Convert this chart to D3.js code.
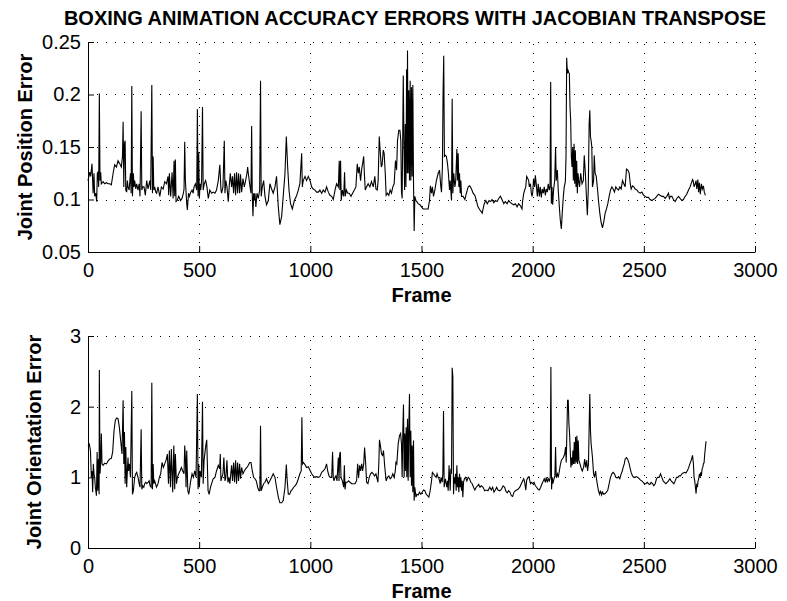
<!DOCTYPE html>
<html>
<head>
<meta charset="utf-8">
<script src="https://cdn.jsdelivr.net/npm/d3@7"></script>
<style>
  body { margin: 0; background: #fff; }
  svg { display: block; font-family: "Liberation Sans", Arial, sans-serif; }
</style>
</head>
<body>
<div id="main-container"></div>
<script>
const chartTitle = "BOXING ANIMATION ACCURACY ERRORS WITH JACOBIAN TRANSPOSE";
const frameTicks = [0, 500, 1000, 1500, 2000, 2500, 3000];
const positionTicks = [0.05, 0.1, 0.15, 0.2, 0.25];
const orientationTicks = [0, 1, 2, 3];

// [frame, error]
const positionError = [
  [0,0.118],[8,0.126],[12,0.122],[18,0.134],[23,0.106],[27,0.125],[30,0.103],[35,0.106],[39,0.098],[42,0.125],
  [45,0.126],[48,0.112],[51,0.201],[54,0.118],[57,0.126],[60,0.115],[68,0.117],[75,0.115],[83,0.116],[90,0.115],
  [98,0.115],[105,0.114],[113,0.125],[120,0.133],[128,0.131],[135,0.137],[143,0.134],[150,0.131],[155,0.141],[158,0.174],
  [161,0.112],[164,0.153],[167,0.156],[170,0.109],[174,0.107],[177,0.118],[180,0.112],[185,0.109],[191,0.125],[194,0.106],
  [197,0.208],[200,0.103],[204,0.125],[207,0.112],[210,0.118],[215,0.110],[219,0.115],[225,0.109],[230,0.115],[234,0.103],
  [239,0.184],[242,0.109],[246,0.112],[252,0.112],[258,0.104],[264,0.118],[270,0.110],[278,0.118],[282,0.109],[287,0.209],
  [290,0.106],[293,0.141],[296,0.109],[300,0.112],[305,0.107],[309,0.106],[315,0.112],[323,0.103],[330,0.112],[338,0.110],
  [345,0.117],[353,0.115],[360,0.122],[363,0.104],[366,0.125],[372,0.103],[378,0.126],[383,0.101],[387,0.137],[390,0.103],
  [393,0.138],[396,0.098],[401,0.099],[408,0.103],[416,0.099],[423,0.101],[429,0.106],[432,0.110],[435,0.155],[438,0.118],
  [441,0.107],[444,0.096],[447,0.090],[452,0.106],[456,0.103],[462,0.107],[468,0.109],[473,0.106],[477,0.112],[483,0.115],
  [489,0.109],[492,0.186],[495,0.103],[498,0.145],[501,0.101],[504,0.115],[507,0.109],[511,0.118],[515,0.188],[518,0.109],
  [523,0.115],[529,0.118],[535,0.112],[541,0.101],[548,0.109],[556,0.106],[563,0.107],[571,0.106],[578,0.109],[586,0.118],
  [593,0.133],[598,0.109],[601,0.106],[607,0.112],[613,0.156],[616,0.106],[620,0.118],[625,0.112],[631,0.098],[635,0.112],
  [640,0.125],[646,0.112],[650,0.122],[655,0.106],[659,0.125],[664,0.104],[668,0.126],[673,0.106],[677,0.125],[682,0.106],
  [686,0.124],[691,0.107],[697,0.120],[703,0.112],[709,0.118],[715,0.125],[718,0.131],[721,0.125],[727,0.115],[733,0.106],
  [736,0.170],[739,0.103],[742,0.084],[745,0.106],[748,0.099],[751,0.106],[755,0.093],[760,0.106],[766,0.101],[772,0.109],
  [776,0.213],[779,0.103],[784,0.112],[790,0.118],[796,0.103],[803,0.095],[811,0.099],[818,0.115],[826,0.110],[833,0.106],
  [841,0.112],[848,0.122],[856,0.093],[863,0.076],[871,0.084],[878,0.103],[886,0.125],[892,0.160],[898,0.131],[904,0.109],
  [911,0.096],[919,0.091],[928,0.099],[937,0.103],[946,0.109],[953,0.115],[961,0.144],[964,0.112],[968,0.118],[976,0.122],
  [983,0.118],[991,0.122],[1000,0.117],[1006,0.112],[1013,0.110],[1021,0.109],[1028,0.107],[1036,0.107],[1043,0.109],[1051,0.106],
  [1058,0.109],[1066,0.107],[1073,0.112],[1081,0.107],[1088,0.104],[1096,0.103],[1103,0.100],[1111,0.109],[1118,0.115],[1126,0.112],
  [1130,0.137],[1133,0.109],[1136,0.137],[1139,0.099],[1144,0.109],[1150,0.103],[1154,0.126],[1157,0.103],[1162,0.109],[1168,0.106],
  [1175,0.106],[1183,0.103],[1190,0.106],[1198,0.109],[1205,0.112],[1211,0.134],[1216,0.125],[1220,0.131],[1226,0.118],[1231,0.129],
  [1235,0.134],[1240,0.141],[1243,0.125],[1247,0.109],[1253,0.112],[1260,0.115],[1268,0.112],[1275,0.117],[1283,0.112],[1290,0.122],
  [1295,0.110],[1301,0.109],[1305,0.118],[1310,0.160],[1314,0.147],[1319,0.131],[1323,0.133],[1328,0.147],[1332,0.144],[1337,0.125],
  [1341,0.104],[1347,0.106],[1353,0.104],[1359,0.109],[1365,0.106],[1371,0.112],[1377,0.115],[1383,0.137],[1388,0.128],[1392,0.156],
  [1398,0.166],[1403,0.166],[1407,0.156],[1410,0.107],[1413,0.101],[1418,0.218],[1421,0.156],[1424,0.109],[1427,0.172],[1430,0.112],
  [1433,0.224],[1436,0.125],[1437,0.242],[1440,0.125],[1443,0.204],[1446,0.118],[1449,0.213],[1452,0.118],[1455,0.207],[1458,0.122],
  [1461,0.209],[1464,0.118],[1467,0.070],[1470,0.103],[1475,0.099],[1479,0.098],[1485,0.096],[1493,0.095],[1500,0.093],[1507,0.091],
  [1515,0.091],[1522,0.091],[1530,0.091],[1536,0.099],[1540,0.113],[1545,0.106],[1549,0.112],[1554,0.103],[1560,0.109],[1567,0.118],
  [1575,0.125],[1581,0.128],[1587,0.112],[1590,0.107],[1594,0.131],[1597,0.201],[1600,0.237],[1603,0.141],[1608,0.142],[1612,0.141],
  [1617,0.134],[1621,0.125],[1626,0.109],[1629,0.118],[1635,0.099],[1638,0.196],[1641,0.106],[1645,0.125],[1650,0.112],[1654,0.118],
  [1659,0.148],[1662,0.118],[1665,0.144],[1668,0.112],[1671,0.125],[1674,0.106],[1677,0.118],[1680,0.103],[1687,0.103],[1695,0.100],
  [1702,0.106],[1710,0.112],[1717,0.113],[1725,0.110],[1732,0.106],[1740,0.104],[1747,0.099],[1754,0.093],[1763,0.090],[1773,0.087],
  [1781,0.095],[1789,0.099],[1796,0.096],[1804,0.099],[1811,0.098],[1817,0.100],[1825,0.097],[1832,0.099],[1840,0.098],[1847,0.101],
  [1855,0.103],[1862,0.100],[1870,0.096],[1877,0.098],[1885,0.096],[1892,0.099],[1900,0.097],[1907,0.096],[1915,0.095],[1922,0.096],
  [1930,0.093],[1937,0.096],[1945,0.094],[1952,0.091],[1955,0.099],[1960,0.106],[1964,0.109],[1969,0.112],[1973,0.122],[1978,0.120],
  [1982,0.118],[1985,0.112],[1990,0.115],[1994,0.106],[1997,0.103],[2000,0.106],[2004,0.120],[2009,0.112],[2012,0.123],[2016,0.115],
  [2021,0.103],[2025,0.115],[2030,0.103],[2034,0.112],[2039,0.102],[2043,0.110],[2048,0.106],[2052,0.112],[2057,0.104],[2061,0.110],
  [2066,0.107],[2070,0.115],[2075,0.109],[2078,0.112],[2081,0.212],[2084,0.096],[2087,0.112],[2090,0.095],[2094,0.109],[2099,0.118],
  [2103,0.150],[2106,0.118],[2111,0.128],[2115,0.109],[2120,0.093],[2124,0.081],[2129,0.072],[2133,0.087],[2138,0.103],[2142,0.112],
  [2147,0.117],[2150,0.141],[2153,0.235],[2156,0.220],[2159,0.223],[2162,0.221],[2165,0.220],[2168,0.188],[2171,0.175],[2174,0.141],
  [2177,0.131],[2180,0.150],[2183,0.118],[2186,0.153],[2189,0.115],[2192,0.147],[2195,0.112],[2198,0.137],[2201,0.106],[2204,0.125],
  [2207,0.118],[2211,0.112],[2216,0.125],[2222,0.115],[2228,0.118],[2232,0.142],[2237,0.125],[2241,0.106],[2246,0.085],[2250,0.109],
  [2254,0.172],[2257,0.185],[2260,0.160],[2263,0.156],[2266,0.150],[2269,0.112],[2274,0.118],[2277,0.142],[2281,0.125],[2286,0.122],
  [2292,0.109],[2296,0.099],[2302,0.087],[2308,0.078],[2314,0.073],[2320,0.079],[2326,0.087],[2332,0.091],[2338,0.096],[2344,0.103],
  [2350,0.109],[2356,0.112],[2362,0.110],[2368,0.107],[2374,0.112],[2380,0.110],[2386,0.109],[2392,0.112],[2398,0.110],[2404,0.118],
  [2410,0.115],[2416,0.112],[2422,0.129],[2428,0.128],[2434,0.125],[2439,0.115],[2443,0.110],[2449,0.113],[2455,0.112],[2461,0.110],
  [2469,0.109],[2476,0.107],[2484,0.106],[2491,0.107],[2499,0.104],[2506,0.103],[2513,0.102],[2521,0.102],[2528,0.100],[2536,0.099],
  [2543,0.100],[2551,0.101],[2558,0.103],[2566,0.105],[2573,0.104],[2581,0.103],[2588,0.103],[2596,0.101],[2603,0.103],[2611,0.106],
  [2615,0.101],[2620,0.103],[2626,0.103],[2633,0.100],[2641,0.098],[2648,0.101],[2656,0.103],[2663,0.101],[2671,0.099],[2678,0.100],
  [2686,0.103],[2693,0.105],[2701,0.109],[2708,0.112],[2716,0.117],[2719,0.119],[2722,0.118],[2726,0.112],[2731,0.115],[2735,0.118],
  [2738,0.110],[2743,0.119],[2746,0.107],[2750,0.116],[2754,0.105],[2759,0.115],[2763,0.110],[2768,0.113],[2772,0.107],[2777,0.104]
];

const orientationError = [
  [0,1.45],[6,1.47],[11,1.38],[15,1.00],[18,1.09],[21,0.79],[24,1.19],[27,1.05],[30,1.00],[33,0.86],
  [38,0.74],[41,1.36],[44,0.81],[47,1.26],[50,0.76],[51,2.52],[54,1.05],[57,1.21],[60,1.62],[63,1.19],
  [68,1.17],[75,1.20],[83,1.19],[90,1.23],[98,1.26],[105,1.27],[111,1.36],[117,1.66],[123,1.81],[129,1.84],
  [135,1.83],[141,1.71],[147,1.52],[153,1.33],[158,2.09],[161,1.19],[164,1.64],[167,0.91],[170,1.43],[174,0.86],
  [177,1.09],[180,1.28],[182,1.09],[186,1.19],[191,1.00],[197,2.22],[200,0.76],[204,0.81],[210,1.00],[215,1.05],
  [219,1.07],[225,1.00],[230,0.91],[234,0.86],[239,1.68],[242,0.83],[246,0.88],[251,0.86],[255,0.91],[260,0.93],
  [264,0.91],[270,0.93],[275,0.95],[279,0.88],[284,0.86],[287,2.34],[290,0.83],[293,1.19],[296,0.91],[300,0.95],
  [308,0.86],[315,0.91],[321,1.00],[327,1.05],[333,1.21],[339,1.14],[345,1.19],[351,1.24],[357,1.33],[362,0.91],
  [366,1.38],[371,0.86],[375,1.40],[381,0.79],[386,1.45],[390,0.83],[393,1.33],[398,0.91],[402,1.00],[408,1.05],
  [414,1.09],[420,1.14],[426,1.09],[432,1.05],[435,1.45],[438,1.28],[441,0.86],[444,1.38],[449,0.81],[453,0.76],
  [458,0.86],[462,0.95],[468,1.05],[474,1.00],[480,1.09],[486,1.00],[492,2.18],[495,0.83],[498,1.19],[501,0.86],
  [504,1.09],[510,1.00],[515,2.07],[518,0.91],[522,1.24],[529,1.43],[534,1.53],[540,0.81],[545,0.76],[551,0.86],
  [556,0.91],[563,0.98],[571,1.00],[578,1.09],[586,1.17],[592,1.12],[595,1.33],[598,0.95],[602,1.00],[607,1.05],
  [611,1.28],[616,0.95],[620,1.00],[625,1.24],[629,0.93],[634,1.00],[638,0.91],[646,1.17],[650,0.95],[655,1.21],
  [659,0.93],[664,1.24],[668,0.91],[673,1.21],[677,0.95],[682,1.19],[686,0.98],[691,1.14],[697,1.05],[703,1.09],
  [709,1.12],[715,1.14],[721,1.17],[727,1.21],[733,1.21],[739,1.09],[745,1.00],[751,0.98],[757,0.95],[763,0.86],
  [769,0.81],[773,0.81],[776,1.73],[779,0.81],[784,0.86],[790,0.91],[796,0.93],[803,0.98],[811,0.91],[818,0.95],
  [826,1.00],[833,1.05],[841,1.00],[848,0.86],[856,0.72],[863,0.64],[871,0.64],[878,0.67],[886,0.86],[892,1.18],
  [896,0.95],[901,0.76],[907,0.76],[913,0.81],[919,0.83],[925,0.86],[931,0.88],[938,0.91],[946,0.98],[953,1.05],
  [959,1.09],[962,1.85],[965,1.19],[969,1.21],[976,1.18],[983,1.14],[991,1.15],[1000,1.09],[1006,1.05],[1013,1.02],
  [1021,1.00],[1028,1.01],[1036,1.00],[1043,1.01],[1051,1.07],[1058,1.09],[1066,1.12],[1073,1.19],[1078,1.09],[1084,1.02],
  [1090,1.00],[1096,1.00],[1100,1.36],[1103,1.00],[1106,0.95],[1111,1.00],[1115,1.02],[1120,0.95],[1126,1.28],[1129,0.95],
  [1132,1.33],[1135,1.36],[1138,1.00],[1144,0.95],[1150,0.86],[1153,1.17],[1156,0.83],[1160,0.93],[1166,0.93],[1172,0.95],
  [1178,0.93],[1186,0.91],[1193,0.91],[1201,0.91],[1208,0.95],[1213,1.19],[1217,1.00],[1222,1.17],[1226,1.09],[1231,1.19],
  [1235,1.09],[1240,1.19],[1244,1.42],[1249,1.19],[1253,0.93],[1259,0.91],[1265,1.00],[1271,1.05],[1277,1.07],[1283,1.05],
  [1289,1.02],[1295,1.05],[1299,1.00],[1304,0.93],[1308,1.19],[1311,1.53],[1316,1.43],[1320,1.33],[1325,1.31],[1329,1.38],
  [1335,1.14],[1341,0.95],[1347,1.00],[1353,1.02],[1359,0.98],[1365,1.00],[1371,1.05],[1377,1.00],[1382,1.09],[1385,1.21],
  [1389,1.19],[1395,1.47],[1401,1.59],[1406,1.62],[1410,1.47],[1413,1.00],[1416,1.66],[1419,2.03],[1422,1.00],[1425,1.62],
  [1428,1.09],[1431,1.71],[1434,1.00],[1437,1.83],[1440,0.95],[1443,1.73],[1446,2.18],[1449,1.00],[1452,1.66],[1455,0.88],
  [1458,1.45],[1461,0.79],[1464,1.52],[1467,0.67],[1470,0.86],[1475,0.72],[1479,0.76],[1485,0.75],[1491,0.79],[1497,0.76],
  [1503,0.79],[1509,0.82],[1515,0.81],[1521,0.76],[1527,0.74],[1533,0.72],[1539,0.81],[1545,0.95],[1549,1.07],[1554,1.05],
  [1560,1.02],[1566,1.00],[1570,1.05],[1575,1.00],[1579,0.98],[1584,0.91],[1588,1.00],[1593,0.93],[1596,1.05],[1599,1.94],
  [1602,0.86],[1605,0.93],[1608,0.98],[1611,0.91],[1614,0.86],[1617,0.95],[1620,0.81],[1624,1.17],[1629,0.81],[1632,1.12],
  [1635,1.05],[1638,2.55],[1641,2.42],[1644,0.76],[1647,1.00],[1650,0.91],[1653,1.05],[1656,0.81],[1659,1.17],[1662,0.86],
  [1665,1.00],[1668,0.79],[1671,1.05],[1674,0.86],[1677,1.00],[1680,0.81],[1683,0.95],[1686,0.72],[1689,0.93],[1693,0.98],
  [1698,1.00],[1704,0.95],[1710,1.00],[1716,0.98],[1722,0.93],[1728,0.91],[1734,0.86],[1740,0.82],[1746,0.86],[1752,0.88],
  [1757,0.90],[1763,0.86],[1769,0.88],[1777,0.86],[1784,0.81],[1792,0.82],[1799,0.81],[1807,0.86],[1814,0.82],[1820,0.86],
  [1826,0.79],[1832,0.82],[1838,0.86],[1844,0.82],[1852,0.81],[1859,0.83],[1867,0.88],[1874,0.86],[1880,0.80],[1886,0.78],
  [1892,0.81],[1898,0.79],[1904,0.74],[1910,0.73],[1916,0.79],[1922,0.81],[1928,0.82],[1934,0.83],[1942,0.86],[1949,0.91],
  [1955,0.95],[1960,0.98],[1964,0.93],[1969,0.82],[1973,0.96],[1979,1.00],[1983,1.01],[1990,0.91],[1994,0.93],[2000,0.91],
  [2006,0.93],[2012,0.88],[2018,0.86],[2024,0.83],[2030,0.82],[2036,0.86],[2042,0.91],[2048,0.95],[2052,0.98],[2057,0.93],
  [2061,1.00],[2066,0.93],[2070,0.98],[2075,0.95],[2079,1.00],[2082,2.56],[2085,0.83],[2088,1.00],[2091,0.91],[2096,0.98],
  [2100,1.02],[2103,1.43],[2106,1.00],[2111,1.05],[2115,1.00],[2120,1.09],[2124,1.17],[2129,1.24],[2133,1.26],[2138,1.28],
  [2144,1.33],[2148,1.43],[2151,1.21],[2154,1.66],[2157,2.09],[2160,2.09],[2163,1.76],[2166,1.62],[2169,1.38],[2172,1.14],
  [2175,1.28],[2178,1.17],[2181,1.38],[2184,1.19],[2187,1.50],[2190,1.19],[2193,1.57],[2196,1.21],[2199,1.59],[2202,1.19],
  [2205,1.52],[2208,1.24],[2213,1.19],[2219,1.12],[2223,1.09],[2229,1.14],[2234,1.26],[2238,1.14],[2243,1.24],[2247,1.09],
  [2251,1.19],[2254,1.71],[2257,2.18],[2260,1.66],[2263,1.47],[2266,1.38],[2269,1.28],[2274,1.05],[2278,1.00],[2283,1.09],
  [2287,0.98],[2292,0.88],[2296,0.81],[2301,0.76],[2305,0.81],[2310,0.75],[2314,0.79],[2320,0.76],[2326,0.77],[2332,0.79],
  [2338,0.82],[2344,0.91],[2350,1.00],[2356,1.05],[2362,1.07],[2368,1.05],[2374,1.00],[2380,0.99],[2386,1.01],[2392,0.98],
  [2398,1.05],[2403,1.09],[2407,1.14],[2412,1.19],[2416,1.26],[2422,1.28],[2428,1.25],[2434,1.19],[2439,1.12],[2443,1.07],
  [2449,1.02],[2455,1.00],[2461,1.00],[2467,1.01],[2473,1.00],[2479,0.98],[2485,0.96],[2491,0.95],[2497,0.93],[2503,0.91],
  [2509,0.91],[2515,0.93],[2521,0.91],[2527,0.90],[2533,0.93],[2539,0.91],[2545,0.88],[2551,0.91],[2557,0.98],[2563,1.00],
  [2569,1.00],[2575,1.05],[2581,1.00],[2587,0.95],[2593,0.93],[2599,0.91],[2605,0.93],[2611,0.95],[2617,0.98],[2623,0.95],
  [2629,0.93],[2635,0.91],[2641,0.95],[2647,1.00],[2653,1.00],[2659,1.02],[2665,1.02],[2671,1.05],[2677,1.06],[2683,1.07],
  [2689,1.06],[2695,1.09],[2701,1.13],[2707,1.19],[2713,1.24],[2719,1.31],[2723,1.19],[2726,1.00],[2729,0.95],[2732,0.86],
  [2735,0.77],[2738,0.91],[2741,0.86],[2744,0.95],[2747,0.98],[2750,1.05],[2753,1.00],[2756,1.07],[2759,1.02],[2762,1.12],
  [2765,1.14],[2768,1.19],[2771,1.21],[2774,1.33],[2777,1.43],[2780,1.51]
];

const svg = d3.select("#main-container").append("svg")
    .attr("width", 787)
    .attr("height", 601);

svg.append("rect").attr("width", 787).attr("height", 601).attr("fill", "#fff");

const left = 88, right = 755;
const escalaX = d3.scaleLinear().domain([0, 3000]).range([left, right]);

svg.append("text")
    .attr("x", 415)
    .attr("y", 25)
    .attr("text-anchor", "middle")
    .style("font-size", "20px")
    .style("font-weight", "bold")
    .text(chartTitle);

function drawPanel(datos, top, bottom, dominio, ticks, etiqueta, labelX) {
    const escalaY = d3.scaleLinear().domain(dominio).range([bottom, top]);
    const g = svg.append("g");

    // dotted grid
    g.selectAll(".hgrid")
        .data(ticks.slice(1))
        .join("line")
        .attr("x1", left).attr("x2", right)
        .attr("y1", d => Math.round(escalaY(d)) + 0.5)
        .attr("y2", d => Math.round(escalaY(d)) + 0.5)
        .attr("stroke", "#000")
        .attr("stroke-dasharray", "1,8");
    g.selectAll(".vgrid")
        .data(frameTicks.slice(1))
        .join("line")
        .attr("x1", d => Math.round(escalaX(d)) + 0.5)
        .attr("x2", d => Math.round(escalaX(d)) + 0.5)
        .attr("y1", bottom).attr("y2", top)
        .attr("stroke", "#000")
        .attr("stroke-dasharray", "1,8");

    const linea = d3.line()
        .x(d => escalaX(d[0]))
        .y(d => escalaY(d[1]));
    g.append("path")
        .datum(datos)
        .attr("d", linea)
        .attr("fill", "none")
        .attr("stroke", "#000")
        .attr("stroke-width", 1.1);

    const ejeX = d3.axisBottom(escalaX)
        .tickValues(frameTicks)
        .tickFormat(d => String(d))
        .tickSizeInner(-6)
        .tickSizeOuter(0)
        .tickPadding(11);
    const gx = g.append("g")
        .attr("transform", `translate(0, ${bottom})`)
        .call(ejeX);

    const ejeY = d3.axisLeft(escalaY)
        .tickValues(ticks)
        .tickFormat(d => String(d))
        .tickSizeInner(-6)
        .tickSizeOuter(0)
        .tickPadding(7);
    const gy = g.append("g")
        .attr("transform", `translate(${left}, 0)`)
        .call(ejeY);

    [gx, gy].forEach(eje => {
        eje.selectAll("path, line").attr("stroke", "#000");
        eje.selectAll("text")
            .attr("fill", "#000")
            .style("font-size", "20px")
            .style("font-family", "'Liberation Sans', Arial, sans-serif");
    });

    g.append("text")
        .attr("x", (left + right) / 2)
        .attr("y", bottom + 50)
        .attr("text-anchor", "middle")
        .style("font-size", "20px")
        .style("font-weight", "bold")
        .text("Frame");

    g.append("text")
        .attr("transform", `translate(${labelX}, ${(top + bottom) / 2}) rotate(-90)`)
        .attr("text-anchor", "middle")
        .style("font-size", "20px")
        .style("font-weight", "bold")
        .text(etiqueta);
}

drawPanel(positionError, 42, 252, [0.05, 0.25], positionTicks, "Joint Position Error", 32);
drawPanel(orientationError, 336, 548, [0, 3], orientationTicks, "Joint Orientation Error", 41);
</script>
</body>
</html>
